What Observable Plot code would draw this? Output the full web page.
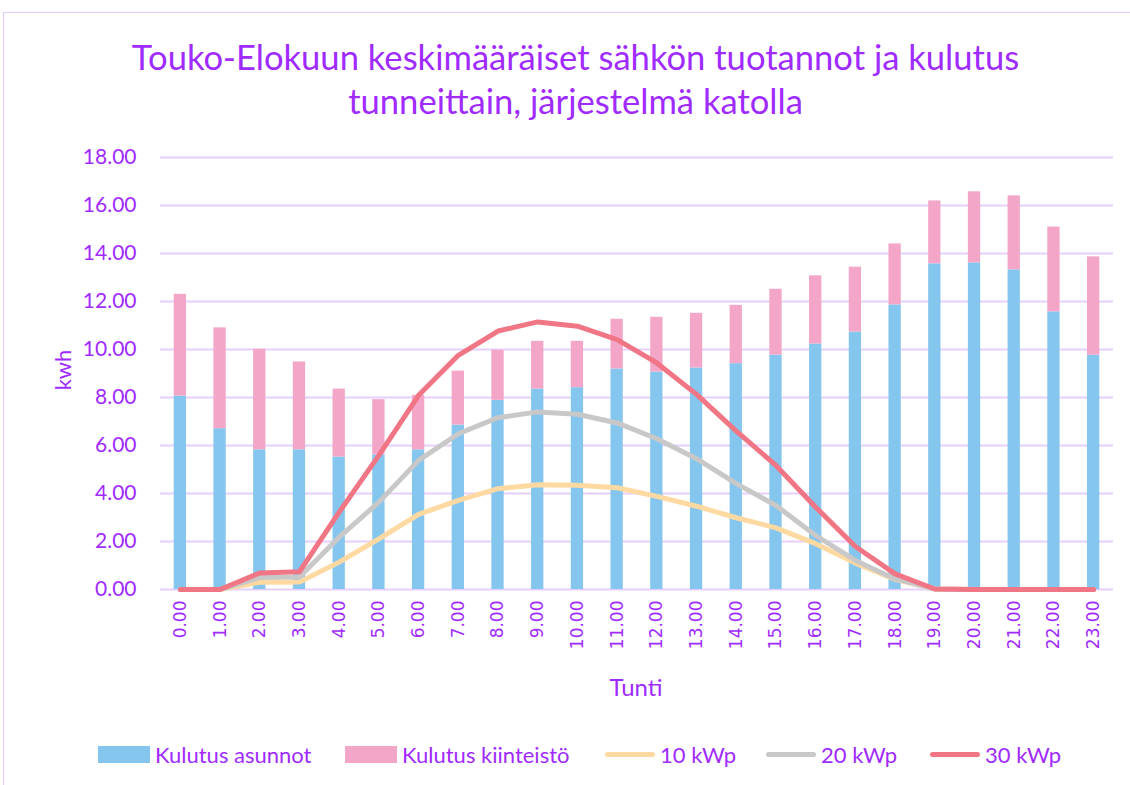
<!DOCTYPE html>
<html><head><meta charset="utf-8">
<script src="https://cdn.jsdelivr.net/npm/d3@7"></script>
<script src="https://cdn.jsdelivr.net/npm/@observablehq/plot@0.6"></script>
<style>
body{margin:0;background:#fff;font-family:Lato,"Noto Sans",sans-serif;}
#wrap{position:relative;width:1130px;height:785px;overflow:hidden;background:#fff;}
#frame{position:absolute;left:3px;top:12px;width:1200px;height:900px;border:1.5px solid #e2cbf9;box-sizing:border-box;}
#title{position:absolute;left:0;top:35px;width:1151px;text-align:center;color:#9f2bff;font-size:34.6px;line-height:44px;}
#chart{position:absolute;left:0;top:140px;}
#ylab{position:absolute;left:62px;top:370px;transform:translate(-50%,-50%) rotate(-90deg);color:#9f2bff;font-size:22px;white-space:nowrap;}
#xlab{position:absolute;left:636px;top:686px;transform:translate(-50%,-50%);color:#9f2bff;font-size:24px;}
#legend{position:absolute;left:0;top:741px;width:1130px;height:26px;}
.li{position:absolute;top:0;height:26px;display:flex;align-items:center;color:#9f2bff;font-size:22px;white-space:nowrap;}
.sw{width:52px;height:17px;margin-right:5px;}
.ln{width:50px;height:5px;border-radius:3px;margin-right:5px;}
</style></head>
<body>
<div id="wrap">
  <div id="frame"></div>
  <div id="title">Touko-Elokuun keskimääräiset sähkön tuotannot ja kulutus<br>tunneittain, järjestelmä katolla</div>
  <div id="chart"></div>
  <div id="ylab">kwh</div>
  <div id="xlab">Tunti</div>
  <div id="legend"></div>
</div>
<script>
const hours = ["0.00","1.00","2.00","3.00","4.00","5.00","6.00","7.00","8.00","9.00","10.00","11.00","12.00","13.00","14.00","15.00","16.00","17.00","18.00","19.00","20.00","21.00","22.00","23.00"];
const kulutusAsunnot = [8.06,6.70,5.82,5.82,5.52,5.61,5.82,6.85,7.88,8.35,8.41,9.19,9.06,9.23,9.41,9.77,10.23,10.73,11.86,13.57,13.61,13.32,11.57,9.76];
const kulutusKiinteisto = [4.24,4.20,4.19,3.66,2.83,2.30,2.27,2.25,2.09,1.99,1.93,2.07,2.28,2.28,2.43,2.74,2.84,2.70,2.54,2.62,2.96,3.08,3.53,4.10];
const kwp10 = [0,0,0.30,0.31,1.14,2.11,3.13,3.71,4.20,4.36,4.34,4.24,3.88,3.47,2.99,2.57,1.91,1.10,0.42,0.02,0,0,0,0];
const kwp20 = [0,0,0.50,0.52,2.18,3.64,5.38,6.49,7.16,7.40,7.30,6.94,6.28,5.45,4.41,3.50,2.25,1.21,0.44,0.02,0,0,0,0];
const kwp30 = [0,0,0.69,0.74,3.22,5.59,8.09,9.76,10.77,11.15,10.97,10.41,9.44,8.13,6.60,5.17,3.43,1.79,0.65,0.02,0,0,0,0];
const yTicks = [0,2,4,6,8,10,12,14,16,18];
const barSeries = ["Kulutus asunnot","Kulutus kiinteistö"];
const barColors = ["#85c6ef","#f4a6c8"];
const lineSeries = ["10 kWp","20 kWp","30 kWp"];
const lineColors = ["#fed9a1","#c8c8c8","#f07686"];

const purple = "#9f2bff";
const bars = [];
hours.forEach((h,i)=>{
  bars.push({hour:h, series:barSeries[0], value:kulutusAsunnot[i]});
  bars.push({hour:h, series:barSeries[1], value:kulutusKiinteisto[i]});
});
const lines = [];
[kwp10,kwp20,kwp30].forEach((arr,k)=>arr.forEach((v,i)=>lines.push({hour:hours[i], series:lineSeries[k], value:v})));

const chart = Plot.plot({
  width:1130, height:560,
  marginLeft:160, marginRight:17, marginTop:17, marginBottom:111,
  x:{type:"band", domain:hours, paddingInner:0.69, paddingOuter:0.345, round:false, label:null},
  y:{domain:[0,18], label:null},
  color:{domain:[...barSeries,...lineSeries], range:[...barColors,...lineColors]},
  style:{background:"transparent", overflow:"visible"},
  marks:[
    Plot.ruleY(yTicks, {stroke:"#e6cffc", strokeWidth:2}),
    Plot.barY(bars, {x:"hour", y:"value", fill:"series", order:barSeries}),
    Plot.line(lines, {x:"hour", y:"value", z:"series", stroke:"series", strokeWidth:5, strokeLinejoin:"round", strokeLinecap:"round"}),
    Plot.axisY(yTicks, {tickSize:0, tickPadding:24, tickFormat:d=>d.toFixed(2), color:purple, fontSize:21, fontFamily:"Lato", label:null}),
    Plot.axisX({tickRotate:-90, tickSize:0, tickPadding:11, color:purple, fontSize:17, fontFamily:"DejaVu Sans", label:null})
  ]
});
d3.select(chart).selectAll('g[aria-label="x-axis tick label"] text')
  .style("font-family","'DejaVu Sans'").style("font-size","17px");
document.getElementById("chart").appendChild(chart);

const legend = document.getElementById("legend");
const items = [
  {label:barSeries[0], color:barColors[0], kind:"sw", left:98},
  {label:barSeries[1], color:barColors[1], kind:"sw", left:345},
  {label:lineSeries[0], color:lineColors[0], kind:"ln", left:605},
  {label:lineSeries[1], color:lineColors[1], kind:"ln", left:766},
  {label:lineSeries[2], color:lineColors[2], kind:"ln", left:930}
];
items.forEach(it=>{
  const d = document.createElement("div");
  d.className = "li"; d.style.left = it.left+"px";
  const s = document.createElement("span");
  s.className = it.kind; s.style.background = it.color;
  d.appendChild(s);
  d.appendChild(document.createTextNode(it.label));
  legend.appendChild(d);
});
</script>
</body></html>
